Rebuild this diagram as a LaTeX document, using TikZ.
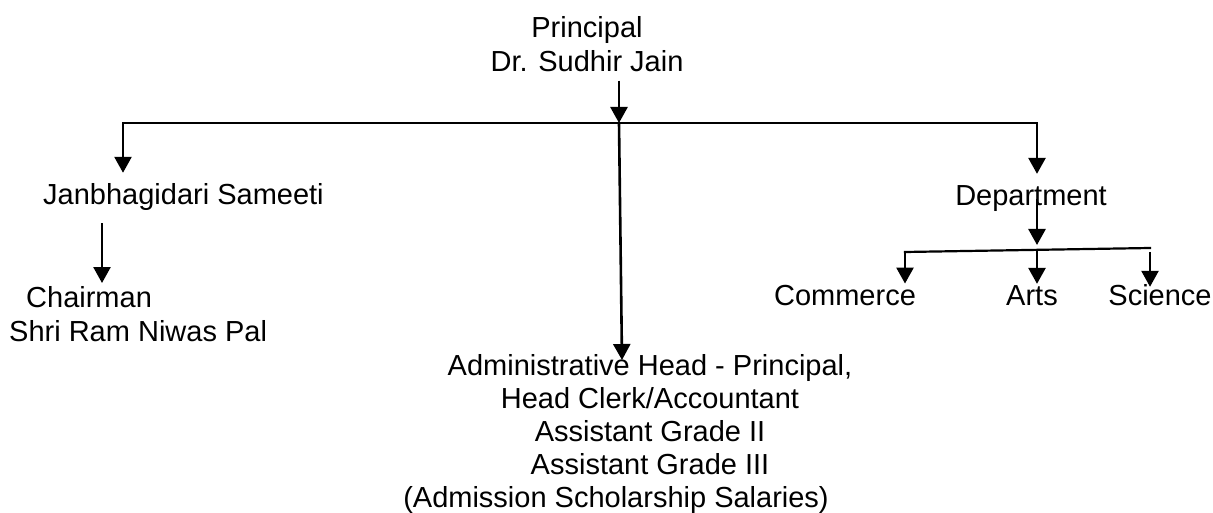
\documentclass[tikz,border=0pt]{standalone}
\usepackage{fontspec}
\setmainfont{Liberation Sans}
\usetikzlibrary{arrows.meta}

\begin{document}
\begin{tikzpicture}[
  x=1pt, y=-1pt,
  font=\fontsize{29}{34}\selectfont,
  every node/.style={inner sep=0pt},
  title/.style={align=center},
  arrow/.style={-{Triangle[width=17pt,length=16pt]}, line width=2.6pt},
  line/.style={line width=2.2pt, line cap=rect}
]
\useasboundingbox (0,0) rectangle (1213,513);

% Nodes
\node[title, anchor=north] (principal) at (587,16) {Principal\\Dr. Sudhir Jain};
\node[anchor=base] (jan) at (183.5,205) {Janbhagidari Sameeti};
\node[align=left, anchor=north west] (chair) at (9,286) {\hspace*{17pt}Chairman\\Shri Ram Niwas Pal};
\node[title, anchor=north, font=\fontsize{29}{33}\selectfont] (admin) at (650,354)
  {Administrative Head - Principal,\\Head Clerk/Accountant\\Assistant Grade II\\Assistant Grade III\\(Admission Scholarship Salaries)\hspace*{68pt}};
\node[anchor=base] (dept) at (1031,206) {Department};
\node[anchor=base] (com) at (845,305) {Commerce};
\node[anchor=base] (arts) at (1032,305) {Arts};
\node[anchor=base] (sci) at (1160,305) {Science};

% Junctions
\coordinate (busL) at (123,123);
\coordinate (busM) at (619,123);
\coordinate (busR) at (1037,123);
\coordinate (subL) at (905,252);
\coordinate (subM) at (1037,250);
\coordinate (subR) at (1150,248);
\coordinate (janX) at (102,0);

% Arrows
\draw[line] (busL) -- (busR);
\draw[arrow, shorten <=9pt] (principal.south -| busM) -- (busM);
\draw[arrow, shorten >=11pt] (busL) -- (busL |- jan.north);
\draw[arrow, shorten <=12pt, shorten >=3pt] (janX |- jan.south) -- (janX |- chair.north);
\draw[arrow] (busM) -- ([xshift=-28pt, yshift=-6pt]admin.north);
\draw[arrow, shorten >=12pt] (busR) -- (busR |- dept.north);
\draw[arrow, shorten >=5pt] (subM |- dept.center) -- (subM);
\draw[line] (subL) -- (subR);
\draw[arrow, shorten >=1pt] (subL) -- (subL |- com.north);
\draw[arrow, shorten >=1pt] (subM) -- (subM |- arts.north);
\draw[arrow, shorten >=1pt] ([yshift=-4pt]subR) -- ([yshift=-4pt]subR |- sci.north);

\end{tikzpicture}
\end{document}
